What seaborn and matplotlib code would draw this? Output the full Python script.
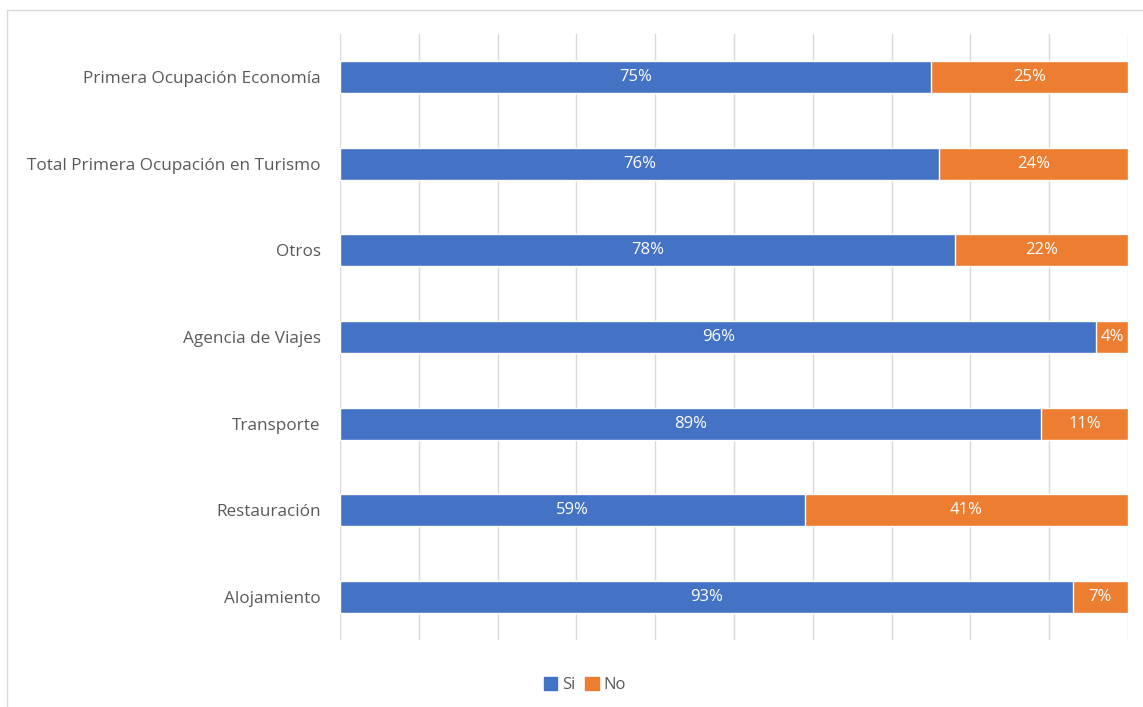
import numpy as np
import pandas as pd
import matplotlib
matplotlib.use("Agg")
import matplotlib.pyplot as plt
import seaborn as sns
from matplotlib.patches import Rectangle, Patch

categorias = ["Primera Ocupación Economía", "Total Primera Ocupación en Turismo", "Otros",
              "Agencia de Viajes", "Transporte", "Restauración", "Alojamiento"]
si = [75, 76, 78, 96, 89, 59, 93]
no = [25, 24, 22, 4, 11, 41, 7]

azul = "#4472C4"
naranja = "#ED7D31"

sns.set_style("white")
plt.rcParams["font.family"] = ["Open Sans", "DejaVu Sans"]

df = pd.DataFrame({"cat": categorias, "si": si, "no": no})
df["total"] = df["si"] + df["no"]

fig = plt.figure(figsize=(11.43, 7.07), dpi=100)
ax = fig.add_axes([340 / 1143, 1 - 640 / 707, (1128 - 340) / 1143, (640 - 34) / 707])

sns.barplot(data=df, y="cat", x="total", color=naranja, width=0.37, saturation=1, ax=ax, orient="h")
sns.barplot(data=df, y="cat", x="si", color=azul, width=0.37, saturation=1, ax=ax, orient="h")

for i, (a, b) in enumerate(zip(si, no)):
    ax.text(a / 2, i, f"{a}%", color="white", ha="center", va="center", fontsize=12)
    ax.text(a + b / 2, i, f"{b}%", color="white", ha="center", va="center", fontsize=12)

ax.set_xlim(0, 100)
ax.set_ylim(6.5, -0.5)
ax.set_xticks(np.arange(0, 101, 10))
ax.set_xticklabels([])
ax.xaxis.grid(True, color="#d9d9d9", linewidth=1)
ax.set_axisbelow(True)
ax.tick_params(axis="both", length=0)
ax.tick_params(axis="y", labelsize=12.3, labelcolor="#595959", pad=14)
ax.set_xlabel("")
ax.set_ylabel("")
for s in ax.spines.values():
    s.set_visible(False)

handles = [Patch(color=azul, label="Si"), Patch(color=naranja, label="No")]
fig.legend(handles=handles, loc="center", bbox_to_anchor=(585 / 1143, 1 - 685 / 707), ncol=2,
           frameon=False, fontsize=12, handlelength=0.8, handleheight=0.8, handletextpad=0.3,
           columnspacing=0.6, labelcolor="#595959")

fig.patches.append(Rectangle((7 / 1143, -0.01), 1.0, 1 - 10 / 707 + 0.01, transform=fig.transFigure,
                             fill=False, edgecolor="#d9d9d9", linewidth=1))

fig.savefig("out.png", dpi=100)
